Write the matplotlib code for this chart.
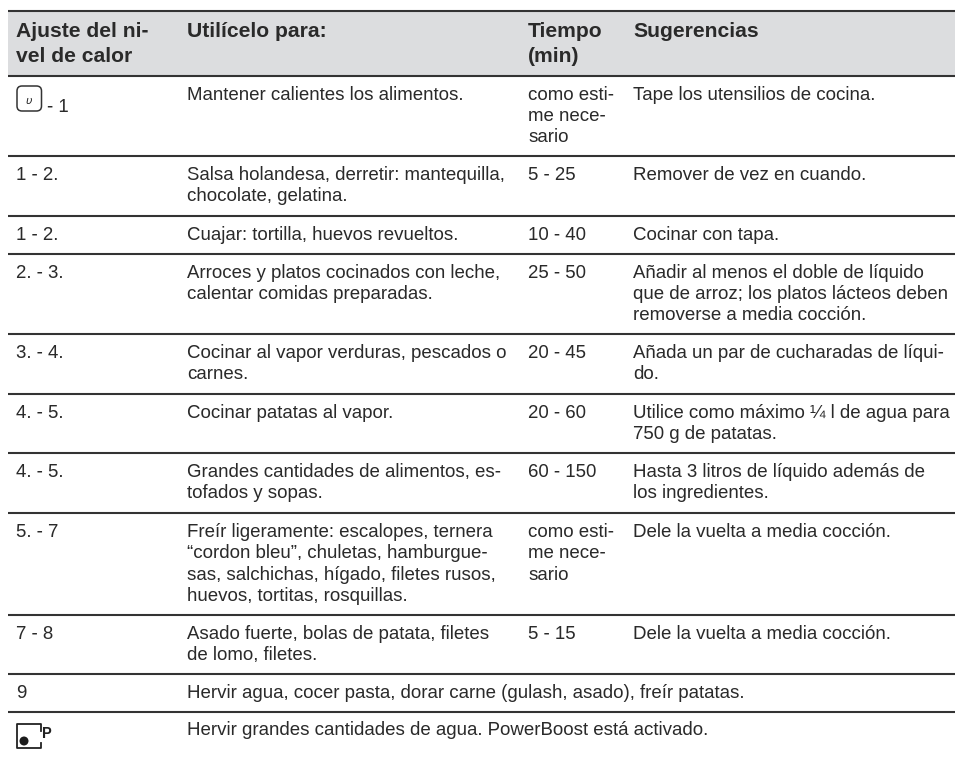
import matplotlib
matplotlib.use("Agg")
import matplotlib.pyplot as plt
from matplotlib.patches import Circle, FancyBboxPatch, Rectangle

plt.rcParams['font.family'] = ['Liberation Sans', 'DejaVu Sans']
plt.rcParams['text.hinting'] = 'no_autohint'
plt.rcParams['text.hinting_factor'] = 8

headers = ["Ajuste del ni-\nvel de calor", "Utilícelo para:", "Tiempo\n(min)", "Sugerencias"]

niveles = ["- 1", "1 - 2.", "1 - 2.", "2. - 3.", "3. - 4.", "4. - 5.", "4. - 5.", "5. - 7", "7 - 8", "9", ""]

usos = [
    "Mantener calientes los alimentos.",
    "Salsa holandesa, derretir: mantequilla,\nchocolate, gelatina.",
    "Cuajar: tortilla, huevos revueltos.",
    "Arroces y platos cocinados con leche,\ncalentar comidas preparadas.",
    "Cocinar al vapor verduras, pescados o\ncarnes.",
    "Cocinar patatas al vapor.",
    "Grandes cantidades de alimentos, es-\ntofados y sopas.",
    "Freír ligeramente: escalopes, ternera\n“cordon bleu”, chuletas, hamburgue-\nsas, salchichas, hígado, filetes rusos,\nhuevos, tortitas, rosquillas.",
    "Asado fuerte, bolas de patata, filetes\nde lomo, filetes.",
    "Hervir agua, cocer pasta, dorar carne (gulash, asado), freír patatas.",
    "Hervir grandes cantidades de agua. PowerBoost está activado.",
]

tiempos = [
    "como esti-\nme nece-\nsario", "5 - 25", "10 - 40", "25 - 50", "20 - 45", "20 - 60",
    "60 - 150", "como esti-\nme nece-\nsario", "5 - 15", "", "",
]

sugerencias = [
    "Tape los utensilios de cocina.",
    "Remover de vez en cuando.",
    "Cocinar con tapa.",
    "Añadir al menos el doble de líquido\nque de arroz; los platos lácteos deben\nremoverse a media cocción.",
    "Añada un par de cucharadas de líqui-\ndo.",
    "Utilice como máximo ¼ l de agua para\n750 g de patatas.",
    "Hasta 3 litros de líquido además de\nlos ingredientes.",
    "Dele la vuelta a media cocción.",
    "Dele la vuelta a media cocción.",
    "",
    "",
]

# layout in pixels
col_x = [16, 187, 528, 633]
rule_y = [11, 75.5, 156, 216, 253.5, 334, 394, 453, 513, 615, 674, 712]
text_color = "#2a2a2a"
rule_color = "#333333"

fig = plt.figure(figsize=(9.55, 7.59), dpi=100)
ax = fig.add_axes([0, 0, 1, 1])
ax.set_xlim(0, 955)
ax.set_ylim(759, 0)
ax.axis("off")


def put_lines(x, top, s, offset, pitch, **kw):
    for i, line in enumerate(s.split("\n")):
        ax.text(x, top + offset + i * pitch, line, va="baseline", ha="left", color=text_color, **kw)


ax.add_patch(Rectangle((8, rule_y[0]), 947, rule_y[1] - rule_y[0], fc="#dcdddf", ec="none"))
for y in rule_y:
    ax.plot([8, 955], [y, y], color=rule_color, lw=1.5, solid_capstyle="butt")

for x, h in zip(col_x, headers):
    put_lines(x, rule_y[0], h, 26, 25, fontsize=15.2, fontweight="bold")

for r in range(len(usos)):
    top = rule_y[r + 1]
    offset = 23 if r == 10 else 24
    nivel_x = 47 if r == 0 else col_x[0]
    nivel_off = 36.5 if r == 0 else offset
    put_lines(nivel_x, top, niveles[r], nivel_off, 21.3, fontsize=13.4)
    put_lines(col_x[1], top, usos[r], offset, 21.3, fontsize=13.4)
    put_lines(col_x[2], top, tiempos[r], offset, 21.3, fontsize=13.4)
    put_lines(col_x[3], top, sugerencias[r], offset, 21.3, fontsize=13.4)

# icono mantener caliente
ax.add_patch(FancyBboxPatch((20, 89), 18.5, 19, boxstyle="round,pad=3,rounding_size=5",
                            fc="none", ec="#333333", lw=1.1))
ax.text(29, 104, "υ", fontsize=8, style="italic", ha="center", va="baseline",
        color=text_color, family="DejaVu Sans")

# icono PowerBoost
ax.plot([41, 41, 16.5, 16.5, 41, 41], [731, 723.5, 723.5, 747.5, 747.5, 743],
        color="#222222", lw=1.3, solid_joinstyle="round")
ax.add_patch(Circle((24, 741), 4.5, fc="#1c1c1c", ec="none"))
ax.text(41, 738, "P", fontsize=10.5, fontweight="bold", ha="left", va="baseline", color="#222222")

fig.savefig("out.png", dpi=100)
